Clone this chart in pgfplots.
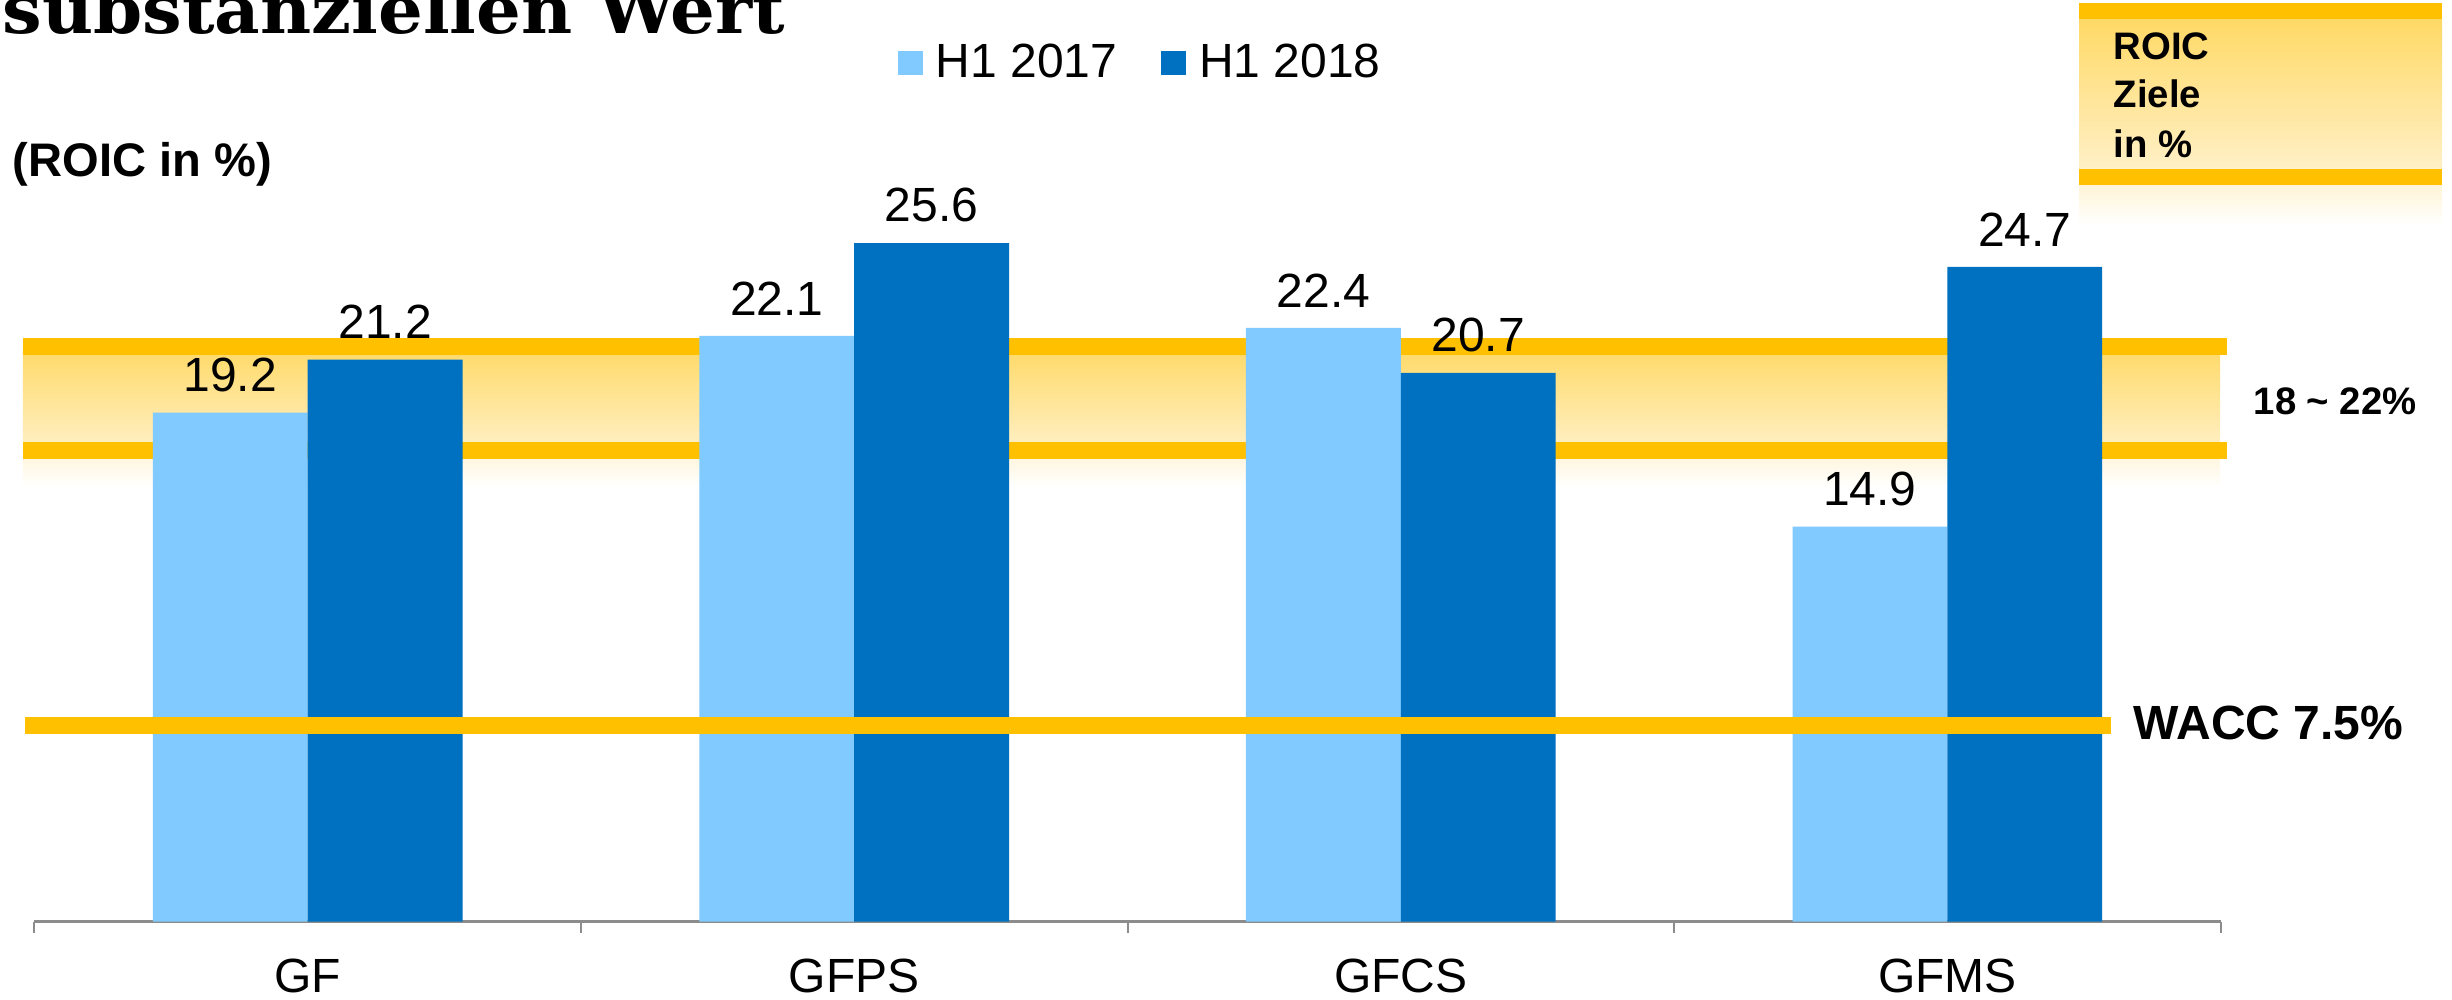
\documentclass[border=0pt]{standalone}
\usepackage{graphicx}
\usepackage{pgfplots}
\pgfplotsset{compat=1.18}
\usepackage{fontspec}
\setmainfont{Liberation Sans}
\newfontfamily\titlefont{DejaVu Serif}

\definecolor{lightbar}{HTML}{80CAFF}
\definecolor{darkbar}{HTML}{0070C0}
\definecolor{gold}{HTML}{FFC000}
\definecolor{bandtop}{HTML}{FFD966}
\definecolor{bandbot}{HTML}{FFF0C6}
\definecolor{fadetop}{HTML}{FFF4D6}
\definecolor{axisgray}{HTML}{8C8C8C}

% 1 px of the reference = 0.01cm
\newcommand{\lbl}{\fontsize{13.66}{16}\selectfont}
\newcommand{\side}{\fontsize{10.9}{13}\selectfont}

\begin{document}
\begin{tikzpicture}
\begin{scope}
\clip (-0.344,-0.775) rectangle (24.176,9.215);
\begin{axis}[
  at={(0,0)}, anchor=south west,
  scale only axis, width=21.862cm, height=9.215cm,
  xmin=-0.5, xmax=3.5, ymin=0, ymax=34.774,
  clip=false,
  axis x line*=bottom, axis y line=none,
  x axis line style={draw=axisgray, line width=0.023cm},
  xtick={-0.5,0.5,1.5,2.5,3.5}, xticklabels={,,,,},
  tick align=outside,
  major tick length=0.11cm,
  tick style={axisgray, line width=0.02cm},
  extra x ticks={0,1,2,3},
  extra x tick labels={GF,GFPS,GFCS,GFMS},
  extra x tick style={major tick length=0pt},
  xticklabel style={font=\lbl, anchor=north, inner sep=0pt, yshift=-0.365cm},
  ytick=\empty,
  legend style={at={(0.39457,0.9316)}, anchor=west, draw=none, fill=none,
    inner sep=0pt, legend columns=2, font=\lbl, cells={anchor=west},
    nodes={inner sep=0pt},
    /tikz/every odd column/.append style={column sep=0.13cm},
    /tikz/every even column/.append style={column sep=0.44cm}},
  nodes near coords style={font=\lbl, inner sep=0pt, anchor=south, yshift=0.2cm},
  /pgf/number format/fixed,
  /pgf/number format/precision=1,
  /pgf/number format/fixed zerofill,
  /pgf/number format/assume math mode=true,
]
% target band 18 ~ 22
\fill[top color=bandtop, bottom color=bandbot] (axis cs:-0.521,17.77) rectangle (axis cs:3.499,21.7);
\fill[top color=fadetop, bottom color=white] (axis cs:-0.521,16.4) rectangle (axis cs:3.499,17.77);
\addplot[forget plot, gold, line width=0.17cm] coordinates {(-0.521,21.7) (3.512,21.7)};
\addplot[forget plot, gold, line width=0.17cm] coordinates {(-0.521,17.77) (3.512,17.77)};

\addplot[ybar, bar width=0.2833, bar shift=-0.14165, fill=lightbar, draw=none,
  nodes near coords, every node near coord/.append style={xshift=-0.774cm},
  legend image code/.code={\fill[lightbar] (0cm,-0.12cm) rectangle (0.25cm,0.12cm);}]
  coordinates {(0,19.2) (1,22.1) (2,22.4) (3,14.9)};
\addlegendentry{H1 2017}
\addplot[ybar, bar width=0.2833, bar shift=0.14165, fill=darkbar, draw=none,
  nodes near coords, every node near coord/.append style={xshift=0.774cm},
  legend image code/.code={\fill[darkbar] (0cm,-0.12cm) rectangle (0.25cm,0.12cm);}]
  coordinates {(0,21.2) (1,25.6) (2,20.7) (3,24.7)};
\addlegendentry{H1 2018}

% WACC
\addplot[forget plot, gold, line width=0.17cm] coordinates {(-0.517,7.4) (3.3,7.4)};
\end{axis}

% ROIC target box, top right
\fill[top color=bandtop, bottom color=bandbot] (20.446,7.525) rectangle (24.076,9.025);
\fill[top color=fadetop, bottom color=white] (20.446,6.965) rectangle (24.076,7.365);
\fill[gold] (20.446,9.025) rectangle (24.076,9.185);
\fill[gold] (20.446,7.365) rectangle (24.076,7.525);
\node[anchor=base west, inner sep=0pt, font=\side\bfseries] at (20.786,8.615) {ROIC};
\node[anchor=base west, inner sep=0pt, font=\side\bfseries] at (20.786,8.135) {Ziele};
\node[anchor=base west, inner sep=0pt, font=\side\bfseries] at (20.786,7.635) {in \%};

\node[anchor=base west, inner sep=0pt, font=\side\bfseries] at (22.186,5.065) {18 \textasciitilde{} 22\%};
\node[anchor=base west, inner sep=0pt, font=\lbl\bfseries] at (20.986,1.815) {WACC 7.5\%};
\node[anchor=base west, inner sep=0pt, font=\fontsize{13.4}{16}\selectfont\bfseries] at (-0.224,7.445) {(ROIC in \%)};

\node[anchor=base west, inner sep=0pt] at (-0.324,8.875)
  {\resizebox{7.82cm}{\height}{\titlefont\bfseries\fontsize{19}{22}\selectfont substanziellen Wert}};
\end{scope}
\pgfresetboundingbox
\path[use as bounding box] (-0.344,-0.775) rectangle (24.176,9.215);
\end{tikzpicture}
\end{document}
